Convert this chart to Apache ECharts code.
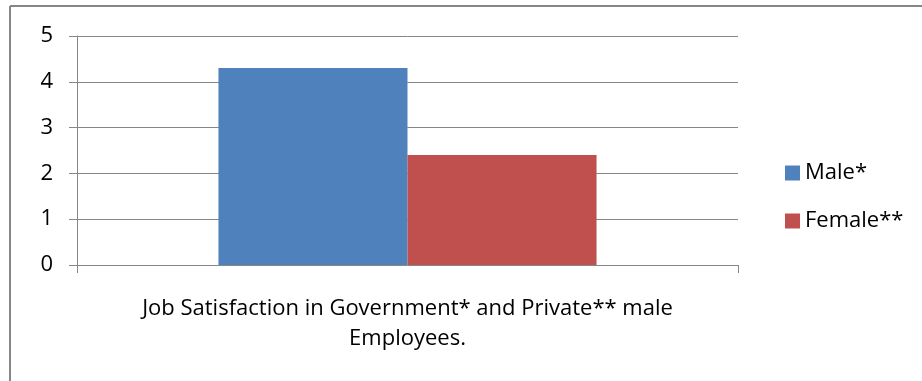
<!DOCTYPE html>
<html>
<head>
<meta charset="utf-8">
<script src="https://cdn.jsdelivr.net/npm/echarts@6/dist/echarts.min.js"></script>
<style>
  html, body { margin: 0; padding: 0; background: #fff; }
  #main { width: 922px; height: 381px; }
</style>
</head>
<body>
<div id="main"></div>
<script>
var categories = ['Job Satisfaction in Government* and Private** male\nEmployees.'];
var maleValues = [4.3];
var femaleValues = [2.4];
var yTicks = [0, 1, 2, 3, 4, 5];

var axisGray = '#868686';
var font = '"Open Sans", "Noto Sans", sans-serif';

var myChart = echarts.init(document.getElementById('main'));
myChart.setOption({
  animation: false,
  textStyle: { fontFamily: font },
  graphic: [
    { type: 'line', shape: { x1: 10, y1: 6, x2: 922, y2: 6 }, style: { stroke: axisGray, lineWidth: 2 } },
    { type: 'line', shape: { x1: 10, y1: 6, x2: 10, y2: 381 }, style: { stroke: axisGray, lineWidth: 2 } }
  ],
  grid: { left: 77, right: 184, top: 36, bottom: 116 },
  legend: {
    orient: 'vertical',
    left: 780,
    top: 156,
    itemWidth: 15,
    itemHeight: 15,
    itemGap: 24,
    icon: 'rect',
    textStyle: { fontFamily: font, fontSize: 22, color: '#000', lineHeight: 24 },
    data: ['Male*', 'Female**']
  },
  xAxis: {
    type: 'category',
    data: categories,
    axisLine: { lineStyle: { color: axisGray, width: 1 } },
    axisTick: { show: true, length: 8, lineStyle: { color: axisGray } },
    axisLabel: {
      margin: 29,
      color: '#000',
      fontFamily: font,
      fontSize: 22,
      lineHeight: 30,
      align: 'center'
    }
  },
  yAxis: {
    type: 'value',
    min: yTicks[0],
    max: yTicks[yTicks.length - 1],
    interval: 1,
    axisLine: { show: true, lineStyle: { color: axisGray, width: 1 } },
    axisTick: { show: true, length: 8, lineStyle: { color: axisGray } },
    splitLine: { lineStyle: { color: axisGray, width: 1 } },
    axisLabel: { margin: 24, color: '#000', fontFamily: font, fontSize: 22 }
  },
  series: [
    {
      name: 'Male*',
      type: 'bar',
      data: maleValues,
      itemStyle: { color: '#4F81BD' },
      barGap: '0%',
      barCategoryGap: '42.8%'
    },
    {
      name: 'Female**',
      type: 'bar',
      data: femaleValues,
      itemStyle: { color: '#C0504D' },
      barGap: '0%',
      barCategoryGap: '42.8%'
    }
  ]
});
</script>
</body>
</html>
